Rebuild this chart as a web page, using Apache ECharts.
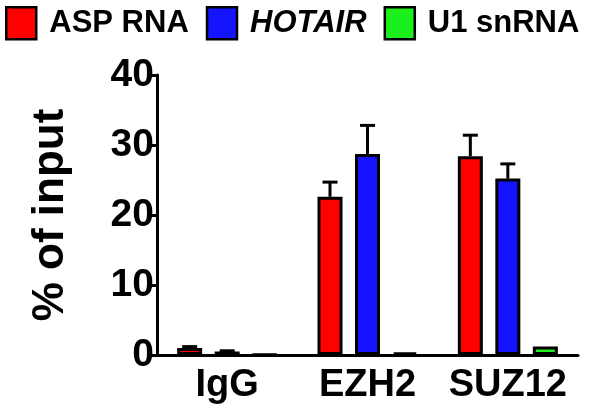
<!DOCTYPE html>
<html>
<head>
<meta charset="utf-8">
<script src="https://cdn.jsdelivr.net/npm/echarts@6/dist/echarts.min.js"></script>
<style>
html,body{margin:0;padding:0;background:#fff;}
#main{width:600px;height:410px;}
</style>
</head>
<body>
<div id="main"></div>
<script>
var categories = ['IgG', 'EZH2', 'SUZ12']
var seriesNames = ['ASP RNA', 'HOTAIR', 'U1 snRNA']
var aspMean = [1.0, 22.6, 28.4]
var aspErr = [0.2, 2.1, 3.0]
var hotairMean = [0.5, 28.7, 25.2]
var hotairErr = [0.1, 4.1, 2.1]
var u1Mean = [0.05, 0.35, 1.2]
var u1Err = [0, 0, 0]
var yTicks = [0, 10, 20, 30, 40]

var colors = ['#ff0000', '#1414ff', '#1cf01c']
var barW = 25
var gapW = 12.5

var means = [aspMean, hotairMean, u1Mean]
var errs = [aspErr, hotairErr, u1Err]

// error bar items: [category, series index, mean, err]
var errData = []
for (var k = 0; k < 3; k++) {
  for (var c = 0; c < categories.length; c++) {
    if (errs[k][c] > 0) errData.push([c, k, means[k][c], errs[k][c]])
  }
}

var font = 'Liberation Sans, Arial, sans-serif'
var chart = echarts.init(document.getElementById('main'))

var series = seriesNames.map(function (name, k) {
  return {
    name: name,
    type: 'bar',
    barWidth: barW,
    barGap: (gapW / barW * 100) + '%',
    itemStyle: { color: colors[k], borderColor: '#000', borderWidth: 3 },
    z: 3,
    data: means[k]
  }
})
series.push({
  type: 'custom',
  z: 2,
  renderItem: function (params, api) {
    var c = api.value(0), k = api.value(1)
    var top = api.coord([c, api.value(2) + api.value(3)])
    var base = api.coord([c, api.value(2)])
    var x = top[0] + (k - 1) * (barW + gapW)
    return {
      type: 'group',
      children: [
        { type: 'line', shape: { x1: x, y1: base[1], x2: x, y2: top[1] }, style: { stroke: '#000', lineWidth: 3 } },
        { type: 'line', shape: { x1: x - 7.5, y1: top[1], x2: x + 7.5, y2: top[1] }, style: { stroke: '#000', lineWidth: 3 } }
      ]
    }
  },
  encode: { x: 0, y: 2 },
  data: errData
})

chart.setOption({
  animation: false,
  textStyle: { fontFamily: font },
  legend: {
    data: seriesNames,
    left: 0,
    top: 1,
    icon: 'rect',
    itemWidth: 30,
    itemHeight: 32,
    itemGap: 17,
    itemStyle: { borderColor: '#000', borderWidth: 2.5 },
    formatter: function (name) {
      return name === 'HOTAIR' ? '{i|' + name + '}' : name
    },
    textStyle: {
      fontFamily: font,
      fontSize: 31,
      fontWeight: 'bold',
      color: '#000',
      padding: [0, 0, 0, 8],
      rich: {
        i: { fontFamily: font, fontSize: 31, fontWeight: 'bold', fontStyle: 'italic', color: '#000' }
      }
    }
  },
  grid: { left: 157, right: 22, top: 75, bottom: 55, containLabel: false },
  xAxis: {
    type: 'category',
    data: categories,
    axisLine: { lineStyle: { color: '#000', width: 3 } },
    axisTick: { alignWithLabel: true, length: 9, lineStyle: { color: '#000', width: 3 } },
    axisLabel: { interval: 0, color: '#000', fontSize: 38, fontWeight: 'bold', fontFamily: font, margin: 12 }
  },
  yAxis: {
    type: 'value',
    min: 0,
    max: 40,
    interval: 10,
    name: '% of input',
    nameLocation: 'middle',
    nameRotate: 90,
    nameGap: 84,
    nameTextStyle: { color: '#000', fontSize: 44, fontWeight: 'bold', fontFamily: font },
    axisLine: { show: true, lineStyle: { color: '#000', width: 3 } },
    axisTick: { show: true, length: 10, lineStyle: { color: '#000', width: 3 } },
    splitLine: { show: false },
    axisLabel: {
      color: '#000', fontSize: 39, fontWeight: 'bold', fontFamily: font, margin: 3,
      formatter: function (v) { return yTicks.indexOf(v) >= 0 ? String(v) : '' }
    }
  },
  series: series
})
</script>
</body>
</html>
